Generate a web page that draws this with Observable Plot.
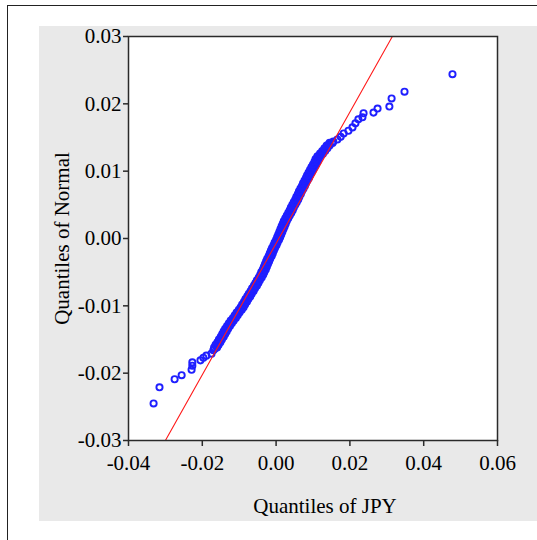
<!DOCTYPE html>
<html>
<head>
<meta charset="utf-8">
<script src="https://cdn.jsdelivr.net/npm/d3@7"></script>
<script src="https://cdn.jsdelivr.net/npm/@observablehq/plot@0.6"></script>
<style>
  html, body { margin: 0; padding: 0; background: #fff; }
  #wrap { position: relative; width: 537px; height: 540px; overflow: hidden; }
  #outer { position: absolute; left: 7px; top: 5px; width: 600px; height: 600px;
           border-top: 1.5px solid #222; border-left: 1.5px solid #222; }
  #panel { position: absolute; left: 39px; top: 26px; width: 498px; height: 495px; background: #e9e9e9; }
  #chart { position: absolute; left: 0; top: 0; }
</style>
</head>
<body>
<div id="wrap">
  <div id="outer"></div>
  <div id="panel"></div>
  <div id="chart"></div>
</div>
<script>
// Quantiles of JPY (x) and Quantiles of Normal (y)
const lowerTailX = [-0.0332, -0.0316, -0.0275, -0.0256, -0.0229, -0.0227, -0.0227, -0.0205, -0.0197, -0.0189, -0.0175, -0.0170];
const lowerTailY = [-0.0245, -0.0221, -0.0209, -0.0203, -0.0195, -0.0189, -0.0184, -0.0181, -0.0177, -0.0174, -0.0171, -0.0166];

const bodyX = [-0.0167,-0.0162,-0.0157,-0.0153,-0.0148,-0.0144,-0.0140,-0.0136,-0.0131,-0.0126,
  -0.0121,-0.0116,-0.0110,-0.0105,-0.0100,-0.0094,-0.0090,-0.0085,-0.0081,-0.0076,
  -0.0072,-0.0067,-0.0063,-0.0058,-0.0054,-0.0050,-0.0045,-0.0041,-0.0037,-0.0034,
  -0.0030,-0.0027,-0.0024,-0.0021,-0.0018,-0.0014,-0.0011,-0.0008,-0.0005,-0.0002,
  0.0002,0.0005,0.0008,0.0011,0.0014,0.0017,0.0020,0.0023,0.0027,0.0031,
  0.0035,0.0039,0.0042,0.0046,0.0050,0.0054,0.0057,0.0061,0.0064,0.0068,
  0.0072,0.0075,0.0079,0.0083,0.0086,0.0090,0.0094,0.0098,0.0102,0.0106,
  0.0109,0.0113,0.0119,0.0126,0.0132,0.0138,0.0143,0.0155];
const bodyY = [-0.0164,-0.0160,-0.0156,-0.0152,-0.0148,-0.0144,-0.0140,-0.0136,-0.0132,-0.0128,
  -0.0124,-0.0120,-0.0116,-0.0112,-0.0108,-0.0104,-0.0100,-0.0096,-0.0092,-0.0088,
  -0.0084,-0.0080,-0.0076,-0.0072,-0.0068,-0.0064,-0.0060,-0.0056,-0.0052,-0.0048,
  -0.0044,-0.0040,-0.0036,-0.0032,-0.0028,-0.0024,-0.0020,-0.0016,-0.0012,-0.0008,
  -0.0004,0.0000,0.0004,0.0008,0.0012,0.0016,0.0020,0.0024,0.0028,0.0032,
  0.0036,0.0040,0.0044,0.0048,0.0052,0.0056,0.0060,0.0064,0.0068,0.0072,
  0.0076,0.0080,0.0084,0.0088,0.0092,0.0096,0.0100,0.0104,0.0108,0.0112,
  0.0116,0.0120,0.0124,0.0128,0.0132,0.0136,0.0140,0.0144];

// interleaved runs of the dense body (both sides of the centre line)
const body2X = [-0.0160,-0.0164,-0.0151,-0.0155,-0.0142,-0.0146,-0.0134,-0.0138,-0.0125,-0.0128,
  -0.0115,-0.0117,-0.0104,-0.0107,-0.0093,-0.0096,-0.0084,-0.0087,-0.0075,-0.0078,
  -0.0066,-0.0069,-0.0057,-0.0060,-0.0048,-0.0052,-0.0039,-0.0043,-0.0032,-0.0036,
  -0.0025,-0.0030,-0.0019,-0.0024,-0.0012,-0.0017,-0.0006,-0.0011,0.0001,-0.0004,
  0.0008,0.0003,0.0014,0.0009,0.0020,0.0015,0.0026,0.0021,0.0033,0.0029,
  0.0041,0.0037,0.0048,0.0044,0.0056,0.0052,0.0063,0.0059,0.0070,0.0066,
  0.0078,0.0073,0.0085,0.0081,0.0092,0.0088,0.0100,0.0096,0.0108,0.0104,
  0.0115,0.0112,0.0127,0.0125,0.0139,0.0137,0.0153];
const body3X = [-0.0168,-0.0156,-0.0159,-0.0147,-0.0150,-0.0138,-0.0142,-0.0130,-0.0133,-0.0120,
  -0.0123,-0.0109,-0.0112,-0.0099,-0.0101,-0.0088,-0.0092,-0.0079,-0.0083,-0.0070,
  -0.0074,-0.0061,-0.0065,-0.0052,-0.0056,-0.0044,-0.0047,-0.0035,-0.0040,-0.0028,
  -0.0033,-0.0022,-0.0027,-0.0016,-0.0020,-0.0009,-0.0014,-0.0003,-0.0007,0.0004,
  0.0000,0.0011,0.0006,0.0017,0.0012,0.0023,0.0018,0.0029,0.0025,0.0037,
  0.0033,0.0045,0.0040,0.0052,0.0048,0.0060,0.0055,0.0067,0.0062,0.0074,
  0.0070,0.0081,0.0077,0.0089,0.0084,0.0096,0.0092,0.0104,0.0100,0.0112,
  0.0107,0.0120,0.0119,0.0133,0.0131,0.0145,0.0145];
const body2Y = [-0.0162,-0.0158,-0.0154,-0.0150,-0.0146,-0.0142,-0.0138,-0.0134,-0.0130,-0.0126,
  -0.0122,-0.0118,-0.0114,-0.0110,-0.0106,-0.0102,-0.0098,-0.0094,-0.0090,-0.0086,
  -0.0082,-0.0078,-0.0074,-0.0070,-0.0066,-0.0062,-0.0058,-0.0054,-0.0050,-0.0046,
  -0.0042,-0.0038,-0.0034,-0.0030,-0.0026,-0.0022,-0.0018,-0.0014,-0.0010,-0.0006,
  -0.0002,0.0002,0.0006,0.0010,0.0014,0.0018,0.0022,0.0026,0.0030,0.0034,
  0.0038,0.0042,0.0046,0.0050,0.0054,0.0058,0.0062,0.0066,0.0070,0.0074,
  0.0078,0.0082,0.0086,0.0090,0.0094,0.0098,0.0102,0.0106,0.0110,0.0114,
  0.0118,0.0122,0.0126,0.0130,0.0134,0.0138,0.0142];

const upperTailX = [0.0166, 0.0175, 0.0183, 0.0196, 0.0207, 0.0215, 0.0223, 0.0234, 0.0237, 0.0264, 0.0275, 0.0307, 0.0313, 0.0348, 0.0478];
const upperTailY = [0.0147, 0.0151, 0.0156, 0.0160, 0.0165, 0.0171, 0.0177, 0.0180, 0.0186, 0.0187, 0.0193, 0.0196, 0.0208, 0.0218, 0.0244];

// reference (normal) line end points
const refLineX = [-0.0300, 0.0315];
const refLineY = [-0.03, 0.03];

const xTicks = [-0.04, -0.02, 0, 0.02, 0.04, 0.06];
const yTicks = [-0.03, -0.02, -0.01, 0, 0.01, 0.02, 0.03];
const xLabel = "Quantiles of JPY";
const yLabel = "Quantiles of Normal";

const allX = [...lowerTailX, ...bodyX, ...body2X, ...body3X, ...upperTailX];
const allY = [...lowerTailY, ...bodyY, ...body2Y, ...body2Y, ...upperTailY];
const points = allX.map((x, i) => ({x, y: allY[i]}));
const refLine = refLineX.map((x, i) => ({x, y: refLineY[i]}));
const fmt = d => d.toFixed(2);

const chart = Plot.plot({
  width: 537,
  height: 540,
  marginLeft: 128,
  marginRight: 40,
  marginTop: 36,
  marginBottom: 100,
  style: { fontFamily: "'Liberation Serif', 'Times New Roman', serif", fontSize: "21px", background: "transparent", color: "#000", overflow: "visible" },
  x: { domain: [-0.04, 0.06] },
  y: { domain: [-0.03, 0.03] },
  marks: [
    Plot.frame({ fill: "#fff" }),
    Plot.dot(points, { x: "x", y: "y", r: 3.1, stroke: "#1f1fff", strokeWidth: 1.9, fill: "none" }),
    Plot.line(refLine, { x: "x", y: "y", stroke: "#ff1a1a", strokeWidth: 1.1, clip: true }),
    Plot.frame({ stroke: "#2a2a2a", strokeWidth: 1.5 }),
    Plot.axisX({ ticks: xTicks, tickFormat: fmt, tickSize: 6, tickPadding: 9, label: null, stroke: "#2a2a2a", strokeWidth: 1.5, fill: "#000" }),
    Plot.axisY({ ticks: yTicks, tickFormat: fmt, tickSize: 5, tickPadding: 2, label: null, stroke: "#2a2a2a", strokeWidth: 1.5, fill: "#000" }),
    Plot.text([xLabel], { frameAnchor: "bottom", text: d => d, dx: 12, dy: 72, fill: "#000", fontSize: 21 }),
    Plot.text([yLabel], { frameAnchor: "left", text: d => d, rotate: -90, dx: -66, textAnchor: "middle", fill: "#000", fontSize: 21 })
  ]
});
document.getElementById("chart").appendChild(chart);
</script>
</body>
</html>
